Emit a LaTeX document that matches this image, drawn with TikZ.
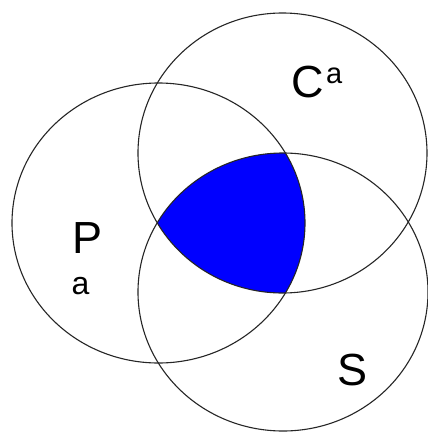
\documentclass[tikz,border=0pt]{standalone}
\usepackage{fontspec}
\setmainfont{Liberation Sans}
\begin{document}
\begin{tikzpicture}[x=1pt,y=-1pt,
  ring/.style={draw=black!85, line width=1.1pt},
  lbl/.style={inner sep=0pt, anchor=base west, font=\fontsize{45}{54}\selectfont},
  sup/.style={inner sep=0pt, anchor=base west, font=\fontsize{29}{34}\selectfont}]
\useasboundingbox (0,0) rectangle (428,432);
\fill[white] (0,0) rectangle (428,432);
\coordinate (cC) at (282.5,153);
\coordinate (cP) at (158.5,223);
\coordinate (cS) at (283,292);
\begin{scope}
  \clip (cC) ellipse [x radius=144.5, y radius=140];
  \clip (cP) ellipse [x radius=146.5, y radius=140];
  \fill[blue] (cS) ellipse [x radius=145, y radius=139];
\end{scope}
\draw[ring] (cC) ellipse [x radius=144.5, y radius=140];
\draw[ring] (cP) ellipse [x radius=146.5, y radius=140];
\draw[ring] (cS) ellipse [x radius=145, y radius=139];
\node[lbl] (lc) at (291,97) {C};
\node[sup] (lca) at (326,83) {a};
\node[lbl] (lp) at (72,253) {P};
\node[sup, font=\fontsize{32}{38}\selectfont] (lpa) at (71.5,294) {a};
\node[lbl] (ls) at (337,385) {S};
\end{tikzpicture}
\end{document}
